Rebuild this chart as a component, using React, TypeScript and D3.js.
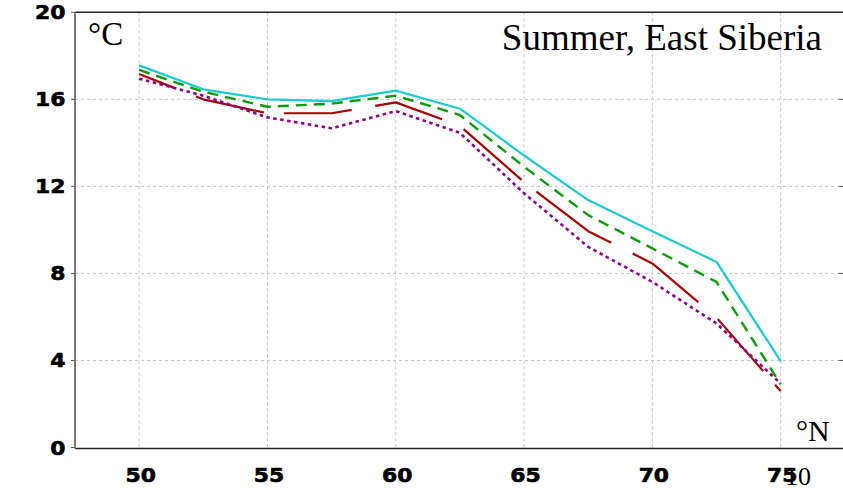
import React from "react";
import * as d3 from "d3";

const latitudes = [50, 52.5, 55, 57.5, 60, 62.5, 65, 67.5, 70, 72.5, 75];
const cyanSeries = [17.56, 16.46, 16.0, 15.92, 16.4, 15.57, 13.42, 11.37, 9.94, 8.53, 3.97];
const greenSeries = [17.35, 16.35, 15.66, 15.8, 16.17, 15.28, 12.9, 10.68, 9.15, 7.61, 2.9];
const redSeries = [17.16, 16.0, 15.36, 15.36, 15.86, 14.78, 12.2, 9.94, 8.46, 5.97, 2.59];
const purpleSeries = [16.95, 16.17, 15.17, 14.67, 15.46, 14.46, 11.68, 9.22, 7.61, 5.7, 2.94];
const xTicks = [50, 55, 60, 65, 70, 75];
const yTicks = [0, 4, 8, 12, 16, 20];

const W = 843;
const H = 488;

// irregular long-dash pattern of the red curve
const RED_DASH = "37,24,70,20,68,24,70,24,77,19,91,24,82,26,69,18,200";

export default function App() {
  const x = d3.scaleLinear().domain([47.5, 77.5]).range([75, 844.8]);
  const y = d3.scaleLinear().domain([0, 20]).range([447.5, 12.3]);
  const line = d3
    .line<number>()
    .x((_, i) => x(latitudes[i]))
    .y((d) => y(d));

  const series = [
    { data: redSeries, color: "#a80000", dash: RED_DASH, width: 2.2 },
    { data: purpleSeries, color: "#8b008b", dash: "3.5,3.5", width: 2.6 },
    { data: greenSeries, color: "#0a9a0a", dash: "11,7", width: 2.4 },
    { data: cyanSeries, color: "#1cc9cf", dash: undefined, width: 2.2 },
  ];

  const tickFont = {
    fontFamily: "DejaVu Sans",
    fontWeight: 700,
    fontSize: 19,
    stroke: "#000",
    strokeWidth: 0.6,
  } as const;

  return (
    <svg
      width={W}
      height={H}
      style={{ position: "absolute", left: 0, top: 0, background: "#fff" }}
    >
      {/* grid */}
      {xTicks.map((t) => (
        <line
          key={"gx" + t}
          x1={x(t)}
          x2={x(t)}
          y1={y(20)}
          y2={y(0)}
          stroke="#c4c4c4"
          strokeWidth={1}
          strokeDasharray="3,3"
        />
      ))}
      {yTicks
        .filter((t) => t > 0 && t < 20)
        .map((t) => (
          <line
            key={"gy" + t}
            x1={x(47.5)}
            x2={W}
            y1={y(t)}
            y2={y(t)}
            stroke="#c4c4c4"
            strokeWidth={1}
            strokeDasharray="3,3"
          />
        ))}
      {/* frame */}
      <line x1={x(47.5)} x2={W} y1={y(20)} y2={y(20)} stroke="#222" strokeWidth={1.5} />
      <line x1={x(47.5)} x2={W} y1={y(0) + 1} y2={y(0) + 1} stroke="#222" strokeWidth={1.5} />
      <line x1={x(47.5)} x2={x(47.5)} y1={y(20)} y2={y(0) + 1} stroke="#7a7a7a" strokeWidth={2} />
      {yTicks.map((t) => (
        <line key={"yt" + t} x1={x(47.5) - 4} x2={x(47.5)} y1={y(t)} y2={y(t)} stroke="#555" strokeWidth={1} />
      ))}
      {yTicks
        .filter((t) => t > 0 && t < 20)
        .map((t) => (
          <line key={"rt" + t} x1={W - 4} x2={W} y1={y(t)} y2={y(t)} stroke="#555" strokeWidth={1} />
        ))}

      {/* series */}
      {series.map((s, i) => (
        <path
          key={i}
          d={line(s.data) || ""}
          fill="none"
          stroke={s.color}
          strokeWidth={s.width}
          strokeDasharray={s.dash}
          strokeLinejoin="round"
        />
      ))}

      {/* y tick labels */}
      {yTicks.map((t) => (
        <text
          key={"yl" + t}
          transform={`translate(65.5, ${y(t) + 7}) scale(1.15,1)`}
          textAnchor="end"
          {...tickFont}
          fill="#000"
        >
          {t}
        </text>
      ))}
      {/* x tick labels */}
      {xTicks.map((t) => (
        <text
          key={"xl" + t}
          transform={`translate(${x(t) + 1.5}, 482) scale(1.15,1)`}
          textAnchor="middle"
          {...tickFont}
          fill="#000"
        >
          {t}
        </text>
      ))}

      {/* annotations */}
      <text x={88} y={45} fontFamily="Liberation Serif" fontSize={33} fill="#000">
        °C
      </text>
      <text x={822} y={50} textAnchor="end" fontFamily="Liberation Serif" fontSize={37} fill="#000">
        Summer, East Siberia
      </text>
      <text x={796} y={440.5} fontFamily="Liberation Serif" fontSize={30} fill="#000">
        °N
      </text>
      <text x={785} y={485} fontFamily="Liberation Serif" fontSize={26} fill="#000">
        10
      </text>
    </svg>
  );
}
